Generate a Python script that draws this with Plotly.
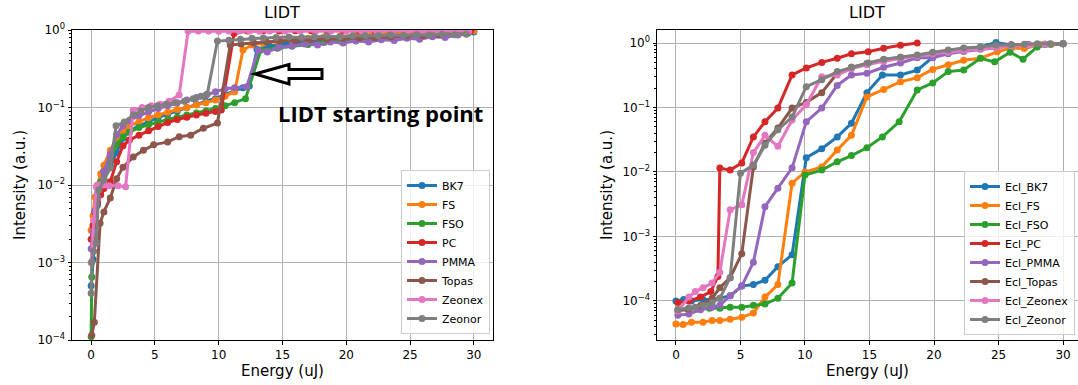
import plotly.graph_objects as go

# ---------------- data: left panel (LIDT) ----------------
names_left = ["BK7", "FS", "FSO", "PC", "PMMA", "Topas", "Zeonex", "Zeonor"]

bk7_e = [0, 0.15, 0.3, 0.5, 0.75, 1.0, 1.5, 2.0, 2.5, 3.0, 3.75, 4.5, 5.25, 6.0, 6.75, 7.5, 8.25, 9.0, 9.75, 10.5, 11.25, 11.9, 12.4, 13.0, 14.0, 15.25, 16.5, 17.75, 19.0, 20.25, 21.5, 22.75, 24.0, 25.25, 26.5, 27.75, 29.0, 30.0]
bk7_i = [5e-4, 1.1e-3, 2.5e-3, 5.5e-3, 8.5e-3, 0.012, 0.018, 0.026, 0.04, 0.05, 0.058, 0.066, 0.074, 0.082, 0.09, 0.1, 0.11, 0.12, 0.13, 0.145, 0.165, 0.18, 0.19, 0.56, 0.62, 0.66, 0.7, 0.73, 0.76, 0.79, 0.82, 0.84, 0.86, 0.88, 0.89, 0.91, 0.92, 0.94]

fs_e = [0, 0.15, 0.3, 0.5, 0.75, 1.0, 1.5, 2.0, 2.5, 3.0, 3.75, 4.5, 5.25, 6.0, 6.75, 7.5, 8.25, 9.0, 9.75, 10.5, 11.25, 11.9, 12.6, 13.5, 14.5, 15.75, 17.0, 18.25, 19.5, 20.75, 22.0, 23.25, 24.5, 25.75, 27.0, 28.25, 29.5, 30.0]
fs_i = [2.6e-3, 4e-3, 7e-3, 0.01, 0.014, 0.018, 0.028, 0.04, 0.05, 0.058, 0.066, 0.074, 0.08, 0.087, 0.094, 0.1, 0.108, 0.115, 0.125, 0.14, 0.16, 0.55, 0.64, 0.68, 0.72, 0.75, 0.78, 0.81, 0.83, 0.85, 0.87, 0.89, 0.9, 0.92, 0.93, 0.94, 0.96, 0.98]

fso_e = [0, 0.05, 0.15, 0.3, 0.5, 0.75, 1.0, 1.5, 2.0, 2.5, 3.0, 3.75, 4.5, 5.25, 6.0, 6.75, 7.5, 8.25, 9.0, 9.75, 10.5, 11.25, 12.1, 13.3, 14.6, 15.75, 17.0, 18.25, 19.5, 20.75, 22.0, 23.25, 24.5, 25.75, 27.0, 28.25, 29.5]
fso_i = [1.1e-4, 6.5e-4, 2e-3, 4.5e-3, 7.5e-3, 0.011, 0.015, 0.022, 0.033, 0.042, 0.048, 0.055, 0.06, 0.065, 0.07, 0.075, 0.08, 0.085, 0.09, 0.097, 0.105, 0.115, 0.13, 0.55, 0.58, 0.62, 0.65, 0.69, 0.72, 0.76, 0.79, 0.82, 0.85, 0.87, 0.89, 0.9, 0.92]

pc_e = [0, 0.15, 0.3, 0.5, 0.75, 1.0, 1.5, 2.0, 2.5, 3.0, 3.75, 4.5, 5.25, 6.0, 6.75, 7.5, 8.25, 9.0, 9.75, 10.2, 11.2, 12.25, 13.5, 14.75, 16.0, 17.25, 18.5, 19.75, 21.0, 22.25, 23.5, 24.75, 26.0, 27.25, 28.5, 29.75]
pc_i = [2e-3, 3e-3, 4.5e-3, 6e-3, 7.5e-3, 9e-3, 0.011, 0.02, 0.032, 0.038, 0.044, 0.05, 0.057, 0.064, 0.07, 0.075, 0.08, 0.084, 0.089, 0.093, 0.9, 0.97, 0.98, 0.97, 0.98, 0.98, 0.97, 0.98, 0.98, 0.97, 0.98, 0.98, 0.97, 0.98, 0.98, 0.98]

pmma_e = [0, 0.15, 0.3, 0.5, 0.75, 1.0, 1.5, 2.0, 2.5, 3.0, 3.75, 4.5, 5.25, 6.0, 6.75, 7.5, 8.25, 9.0, 9.75, 10.5, 11.25, 12.2, 13.1, 13.8, 14.75, 15.75, 16.75, 17.75, 18.75, 19.75, 20.75, 21.75, 22.75, 23.75, 24.75, 25.75, 26.75, 27.75, 28.75]
pmma_i = [1.5e-3, 2.5e-3, 4.7e-3, 7e-3, 0.01, 0.015, 0.025, 0.045, 0.058, 0.068, 0.078, 0.088, 0.097, 0.105, 0.115, 0.125, 0.135, 0.145, 0.16, 0.175, 0.18, 0.185, 0.55, 0.52, 0.6, 0.62, 0.66, 0.64, 0.7, 0.68, 0.72, 0.7, 0.75, 0.73, 0.78, 0.76, 0.82, 0.8, 0.86]

topas_e = [0.05, 0.25, 0.7, 1.0, 1.5, 2.0, 2.5, 3.3, 4.1, 4.9, 6.0, 6.9, 7.8, 8.8, 9.9, 10.9, 11.75, 12.75, 13.75, 14.75, 16.0, 17.25, 18.5, 19.75, 21.0, 22.25, 23.5, 24.75, 26.0, 27.25, 28.5, 29.5]
topas_i = [1.15e-4, 1.7e-4, 3.2e-3, 4.5e-3, 6.8e-3, 0.012, 0.017, 0.023, 0.028, 0.033, 0.036, 0.042, 0.044, 0.054, 0.063, 0.64, 0.66, 0.68, 0.7, 0.72, 0.73, 0.75, 0.76, 0.78, 0.79, 0.8, 0.82, 0.84, 0.85, 0.87, 0.88, 0.9]

zeonex_e = [0, 0.2, 0.4, 0.55, 1.0, 1.4, 2.1, 2.7, 3.3, 4.0, 4.7, 5.4, 6.1, 6.9, 7.6, 8.4, 9.2, 10.0, 10.8, 11.6, 12.4, 13.2, 14.0, 15.2, 16.4, 17.6, 18.8, 20.0, 21.2, 22.4, 23.6, 24.8, 26.0, 27.2, 28.4, 29.6]
zeonex_i = [1e-3, 3.5e-3, 0.0095, 0.01, 0.01, 0.0098, 0.0098, 0.0095, 0.092, 0.1, 0.105, 0.11, 0.12, 0.145, 0.96, 0.97, 0.97, 0.96, 0.97, 0.97, 0.97, 0.96, 0.97, 0.97, 0.97, 0.96, 0.97, 0.97, 0.97, 0.96, 0.97, 0.97, 0.97, 0.96, 0.97, 0.97]

zeonor_e = [0, 0.05, 0.2, 0.4, 0.6, 1.0, 1.5, 1.95, 2.6, 3.3, 3.9, 4.5, 5.2, 5.9, 6.6, 7.3, 8.0, 8.6, 9.1, 9.9, 10.8, 11.7, 12.6, 13.5, 14.5, 15.5, 16.5, 17.5, 18.5, 19.5, 20.5, 21.5, 22.5, 23.5, 24.5, 25.5, 26.5, 27.5, 28.5, 29.4]
zeonor_i = [4e-4, 1e-3, 1.4e-3, 1.8e-3, 8.6e-3, 0.0116, 0.0166, 0.058, 0.065, 0.08, 0.09, 0.1, 0.105, 0.11, 0.115, 0.12, 0.13, 0.14, 0.148, 0.72, 0.74, 0.76, 0.78, 0.79, 0.8, 0.81, 0.8, 0.82, 0.83, 0.82, 0.84, 0.85, 0.84, 0.86, 0.85, 0.87, 0.86, 0.88, 0.87, 0.88]

# ---------------- data: right panel (Ecl_) ----------------
names_right = ["Ecl_BK7", "Ecl_FS", "Ecl_FSO", "Ecl_PC", "Ecl_PMMA", "Ecl_Topas", "Ecl_Zeonex", "Ecl_Zeonor"]

ebk7_e = [0, 0.6, 1.2, 2.1, 2.8, 3.4, 4.2, 5.1, 6.0, 6.9, 7.9, 9.0, 10.1, 11.3, 12.5, 13.6, 14.8, 16.0, 17.4, 18.7, 19.9, 21.1, 22.3, 23.6, 24.8, 26.0, 27.3, 28.6, 30.0]
ebk7_i = [1e-4, 1.05e-4, 1e-4, 1.05e-4, 1.05e-4, 1.1e-4, 1.2e-4, 1.7e-4, 1.8e-4, 2.1e-4, 3.4e-4, 5.2e-4, 0.0166, 0.023, 0.035, 0.057, 0.17, 0.32, 0.32, 0.38, 0.6, 0.7, 0.78, 0.87, 1.02, 0.93, 0.95, 0.96, 0.97]

efs_e = [0, 0.55, 1.2, 2.1, 2.8, 3.4, 4.2, 5.1, 6.0, 6.9, 7.9, 9.0, 10.0, 11.3, 12.5, 13.6, 14.8, 16.1, 17.4, 18.7, 19.9, 21.1, 22.3, 23.6, 24.9, 26.0, 27.0, 28.2, 29.1, 30.0]
efs_i = [4.4e-5, 4.3e-5, 4.7e-5, 4.7e-5, 5e-5, 5e-5, 5.2e-5, 5.6e-5, 6.5e-5, 1.15e-4, 1.8e-4, 6.7e-3, 0.01, 0.012, 0.022, 0.037, 0.146, 0.19, 0.25, 0.29, 0.39, 0.46, 0.54, 0.58, 0.73, 0.84, 0.82, 0.95, 0.96, 0.97]

efso_e = [0.15, 0.9, 1.8, 2.6, 3.4, 4.2, 5.1, 6.0, 6.9, 7.9, 9.0, 10.0, 11.3, 12.5, 13.6, 14.8, 16.0, 17.3, 18.7, 19.9, 21.1, 22.3, 23.6, 24.7, 25.9, 26.9, 28.0, 29.0, 30.0]
efso_i = [7.3e-5, 7.5e-5, 7.5e-5, 7.7e-5, 7.7e-5, 8e-5, 8e-5, 8.6e-5, 9e-5, 1.1e-4, 1.9e-4, 9e-3, 0.0107, 0.0144, 0.018, 0.0237, 0.035, 0.06, 0.187, 0.24, 0.36, 0.38, 0.58, 0.51, 0.72, 0.56, 0.87, 0.96, 0.97]

epc_e = [0.15, 1.0, 1.9, 2.7, 3.25, 3.4, 4.2, 5.1, 6.0, 6.9, 7.9, 9.0, 10.1, 11.3, 12.5, 13.6, 14.9, 16.1, 17.4, 18.7]
epc_i = [9.5e-5, 1e-4, 1.15e-4, 1.4e-4, 2.4e-4, 0.0115, 0.0107, 0.0138, 0.035, 0.06, 0.098, 0.32, 0.41, 0.5, 0.58, 0.68, 0.73, 0.83, 0.92, 1.0]

epmma_e = [0.15, 1.0, 1.9, 2.8, 3.4, 4.2, 5.1, 6.0, 6.9, 7.9, 9.0, 10.1, 11.3, 12.5, 13.6, 14.8, 16.1, 17.4, 18.7, 19.9, 21.1, 22.3, 23.6, 24.8, 26.0, 27.3, 28.6, 30.0]
epmma_i = [6e-5, 6.3e-5, 7.3e-5, 8e-5, 8.6e-5, 1.2e-4, 1.7e-4, 4e-4, 2.9e-3, 5.6e-3, 0.0116, 0.06, 0.098, 0.22, 0.32, 0.34, 0.42, 0.49, 0.59, 0.59, 0.68, 0.74, 0.8, 0.86, 0.9, 0.93, 0.95, 0.97]

etopas_e = [0.15, 1.0, 1.9, 2.8, 3.4, 4.2, 5.1, 6.0, 6.9, 7.9, 9.0, 10.1, 11.3, 12.5, 13.6, 14.8, 16.1, 17.4, 18.7, 19.9, 21.1, 22.3, 23.6, 24.8, 26.0, 27.3, 28.6, 30.0]
etopas_i = [7e-5, 7.5e-5, 8.5e-5, 1.1e-4, 1.6e-4, 2.3e-4, 5.4e-4, 0.012, 0.028, 0.048, 0.098, 0.12, 0.17, 0.34, 0.42, 0.48, 0.55, 0.6, 0.64, 0.7, 0.76, 0.82, 0.86, 0.92, 0.94, 0.95, 0.96, 0.97]

ezeonex_e = [0.15, 1.0, 1.5, 2.1, 2.8, 3.4, 4.2, 5.1, 6.0, 6.9, 7.9, 9.0, 10.1, 11.3, 12.5, 13.6, 14.8, 16.1, 17.4, 18.7, 19.9, 21.1, 22.3, 23.6, 24.8, 26.0, 27.3, 28.6, 30.0]
ezeonex_i = [7e-5, 1.15e-4, 1.4e-4, 1.6e-4, 1.9e-4, 2.8e-4, 2.6e-3, 3.1e-3, 0.02, 0.037, 0.025, 0.064, 0.11, 0.3, 0.32, 0.4, 0.46, 0.52, 0.58, 0.63, 0.68, 0.72, 0.77, 0.82, 0.86, 0.9, 0.93, 0.96, 0.98]

ezeonor_e = [0.15, 1.0, 1.5, 2.1, 2.8, 3.4, 4.2, 5.0, 6.0, 6.9, 7.9, 9.0, 10.1, 11.3, 12.5, 13.6, 14.9, 16.1, 17.4, 18.7, 19.9, 21.1, 22.3, 23.6, 24.8, 26.0, 27.0, 28.0, 29.0, 30.0]
ezeonor_i = [7.3e-5, 7.8e-5, 8e-5, 8.6e-5, 9.5e-5, 1.1e-4, 2.3e-4, 9.6e-3, 0.0128, 0.026, 0.045, 0.071, 0.21, 0.27, 0.36, 0.42, 0.49, 0.56, 0.6, 0.65, 0.72, 0.78, 0.84, 0.87, 0.93, 0.93, 0.96, 0.97, 0.97, 0.98]

x_ticks = [0, 5, 10, 15, 20, 25, 30]
y_tick_vals = [1e-4, 1e-3, 1e-2, 1e-1, 1]
y_tick_text = ["10<sup>−4</sup>", "10<sup>−3</sup>", "10<sup>−2</sup>", "10<sup>−1</sup>", "10<sup>0</sup>"]

colors = ["#1f77b4", "#ff7f0e", "#2ca02c", "#d62728", "#9467bd", "#8c564b", "#e377c2", "#7f7f7f"]

left_series = [(bk7_e, bk7_i), (fs_e, fs_i), (fso_e, fso_i), (pc_e, pc_i),
               (pmma_e, pmma_i), (topas_e, topas_i), (zeonex_e, zeonex_i), (zeonor_e, zeonor_i)]
right_series = [(ebk7_e, ebk7_i), (efs_e, efs_i), (efso_e, efso_i), (epc_e, epc_i),
                (epmma_e, epmma_i), (etopas_e, etopas_i), (ezeonex_e, ezeonex_i), (ezeonor_e, ezeonor_i)]

# ---------------- layout geometry (screenshot pixels) ----------------
W, H = 1078, 385
L_left, L_right = 72, 493
R_left, R_right = 657, 1078
TOP, BOT = 30, 340

ML, MR, MT, MB = L_left, W - R_right, TOP, H - BOT
PW, PH = W - ML - MR, H - MT - MB


def px(x):
    """screenshot x pixel -> paper coordinate"""
    return (x - ML) / PW


def py(y):
    """screenshot y pixel -> paper coordinate"""
    return (H - MB - y) / PH


FONT = "DejaVu Sans"

fig = go.Figure()
for (e, i), name, c in zip(left_series, names_left, colors):
    fig.add_trace(go.Scatter(x=e, y=i, name=name, mode="lines+markers",
                             line=dict(color=c, width=3), marker=dict(color=c, size=7),
                             xaxis="x", yaxis="y", legend="legend"))
for (e, i), name, c in zip(right_series, names_right, colors):
    fig.add_trace(go.Scatter(x=e, y=i, name=name, mode="lines+markers",
                             line=dict(color=c, width=3), marker=dict(color=c, size=7),
                             xaxis="x2", yaxis="y2", legend="legend2"))

minor_vals = [k * 10 ** p for p in range(-5, 1) for k in range(2, 10)]

common_x = dict(tickvals=x_ticks, showgrid=True, gridcolor="#b0b0b0", gridwidth=0.8,
                showline=True, linecolor="black", linewidth=1, mirror=True,
                ticks="outside", ticklen=3.5, tickcolor="black", zeroline=False,
                tickfont=dict(family=FONT, size=12, color="black"))
common_y = dict(type="log", tickvals=y_tick_vals, ticktext=y_tick_text,
                showgrid=True, gridcolor="#b0b0b0", gridwidth=0.8,
                showline=True, linecolor="black", linewidth=1,
                ticks="outside", ticklen=3.5, tickcolor="black", zeroline=False,
                tickfont=dict(family=FONT, size=12, color="black"),
                minor=dict(tickmode="array", tickvals=minor_vals, ticks="outside",
                           ticklen=2, tickcolor="black", showgrid=False))

fig.update_layout(
    width=W, height=H, margin=dict(l=ML, r=MR, t=MT, b=MB),
    paper_bgcolor="white", plot_bgcolor="white",
    font=dict(family=FONT, color="black"),
    xaxis=dict(domain=[px(L_left), px(L_right)], range=[-1.5, 31.5], anchor="y", **common_x),
    yaxis=dict(domain=[0, 1], range=[-4, 0], anchor="x", mirror=True, **common_y),
    xaxis2=dict(domain=[px(R_left), px(R_right)], range=[-1.47, 31.16], anchor="y2", **common_x),
    yaxis2=dict(domain=[0, 1], range=[-4.605, 0.2016], anchor="x2", mirror=False, **common_y),
    legend=dict(x=px(490), y=py(334), xanchor="right", yanchor="bottom",
                bgcolor="rgba(255,255,255,0.8)", bordercolor="#cccccc", borderwidth=1,
                font=dict(family=FONT, size=11, color="black"), tracegroupgap=0),
    legend2=dict(x=px(1075), y=py(335), xanchor="right", yanchor="bottom",
                 bgcolor="rgba(255,255,255,0.8)", bordercolor="#cccccc", borderwidth=1,
                 font=dict(family=FONT, size=11, color="black"), tracegroupgap=0),
    showlegend=True,
)

annots = [
    dict(text="LIDT", x=px(282), y=py(13), font=dict(size=16)),
    dict(text="LIDT", x=px(867), y=py(13), font=dict(size=16)),
    dict(text="Energy (uJ)", x=px(282), y=py(371), font=dict(size=15)),
    dict(text="Energy (uJ)", x=px(867), y=py(371), font=dict(size=15)),
    dict(text="Intensity (a.u.)", x=px(20), y=py(185), textangle=-90, font=dict(size=15)),
    dict(text="Intensity (a.u.)", x=px(607), y=py(185), textangle=-90, font=dict(size=15)),
    dict(text="<b>LIDT starting point</b>", x=px(380), y=py(113),
         font=dict(size=22, family="Open Sans")),
]
for a in annots:
    fig.add_annotation(xref="paper", yref="paper", showarrow=False,
                       xanchor="center", yanchor="middle", **a)

# hollow block arrow pointing left
arrow_pts = [(255, 74), (289, 64.5), (289, 69.5), (322, 69.5), (322, 78.5), (289, 78.5), (289, 84)]
path = "M " + " L ".join(f"{px(a)},{py(b)}" for a, b in arrow_pts) + " Z"
fig.add_shape(type="path", path=path, xref="paper", yref="paper",
              line=dict(color="black", width=3), fillcolor="white")

# remove the browser's default 8px page margin so the figure sits at (0, 0)
fig.write_html("out.html", config={"displayModeBar": False},
               post_script="document.body.style.margin='0';document.body.style.overflow='hidden';")
